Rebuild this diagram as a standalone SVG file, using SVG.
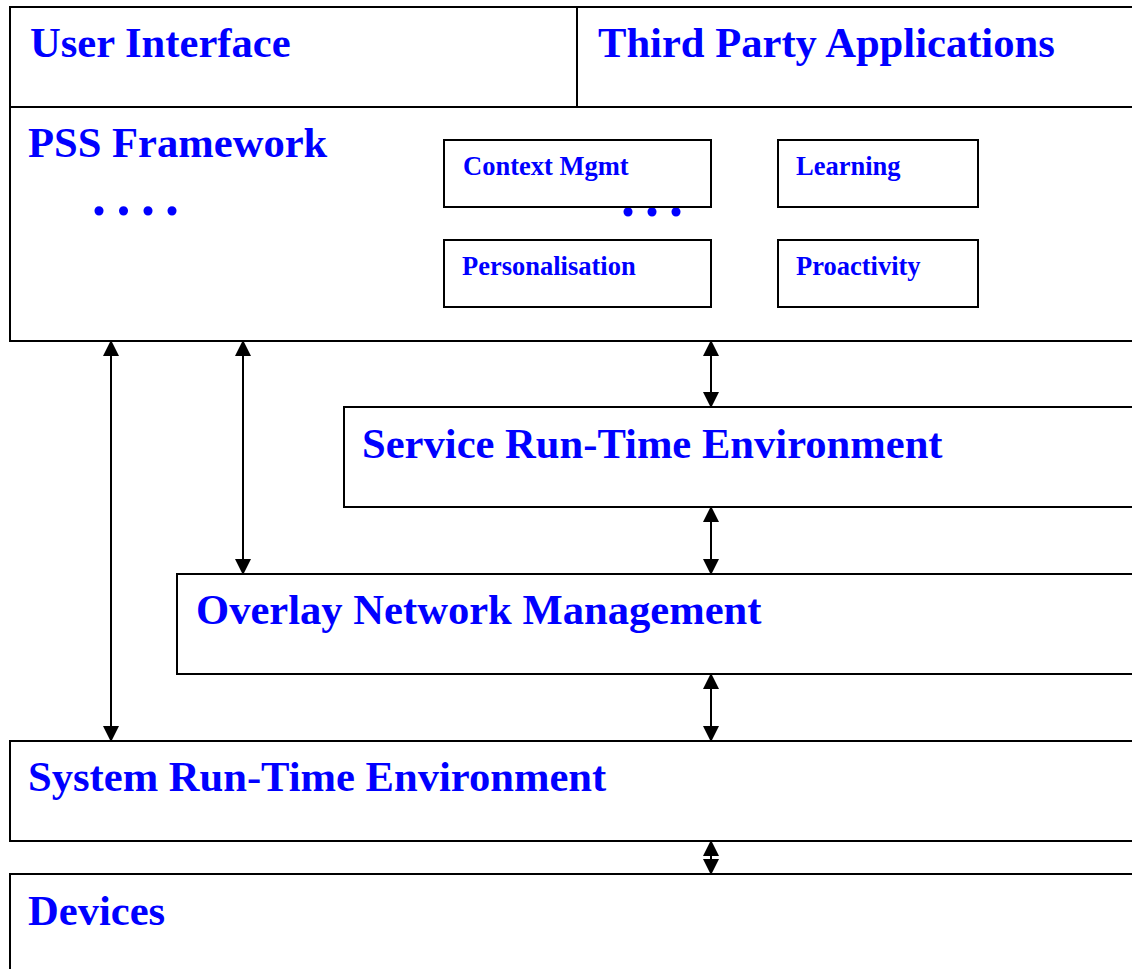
<svg xmlns="http://www.w3.org/2000/svg" width="1132" height="969" viewBox="0 0 1132 969">
  <style>
    .box { fill: #ffffff; stroke: #000000; stroke-width: 2; }
    .sub { fill: #ffffff; stroke: #000000; stroke-width: 2; }
    .big { font-family: "Liberation Serif", "Times New Roman", serif; font-weight: bold; font-size: 42.6px; fill: #0000ff; }
    .small { font-family: "Liberation Serif", "Times New Roman", serif; font-weight: bold; font-size: 26.5px; fill: #0000ff; }
    .dots { font-family: "Liberation Serif", "Times New Roman", serif; font-weight: bold; font-size: 56px; fill: #0000ff; }
    .conn { stroke: #000000; stroke-width: 2; fill: none; marker-start: url(#arrow); marker-end: url(#arrow); }
  </style>
  <defs>
    <marker id="arrow" markerUnits="userSpaceOnUse" markerWidth="16" markerHeight="16" viewBox="0 0 15 15" refX="0" refY="7.5" orient="auto-start-reverse">
      <path d="M0,0 L15,7.5 L0,15 z" fill="#000000"/>
    </marker>
  </defs>
  <rect width="1132" height="969" fill="#ffffff"/>

  <g id="user-interface">
    <rect class="box" x="10" y="7" width="567" height="100"/>
    <text class="big" x="30" y="57">User Interface</text>
  </g>
  <g id="third-party-applications">
    <rect class="box" x="577" y="7" width="570" height="100"/>
    <text class="big" x="598" y="57">Third Party Applications</text>
  </g>
  <g id="pss-framework">
    <rect class="box" x="10" y="107" width="1137" height="234"/>
    <text class="big" x="28" y="157">PSS Framework</text>
    <text class="dots" x="92 116.5 141 165" y="214.5">....</text>
    <text class="dots" x="621 645 669" y="215.5">...</text>
  </g>
  <g id="context-mgmt">
    <rect class="sub" x="444" y="140" width="267" height="67"/>
    <text class="small" x="463" y="175">Context Mgmt</text>
  </g>
  <g id="learning">
    <rect class="sub" x="778" y="140" width="200" height="67"/>
    <text class="small" x="796" y="175">Learning</text>
  </g>
  <g id="personalisation">
    <rect class="sub" x="444" y="240" width="267" height="67"/>
    <text class="small" x="462" y="275">Personalisation</text>
  </g>
  <g id="proactivity">
    <rect class="sub" x="778" y="240" width="200" height="67"/>
    <text class="small" x="796" y="275">Proactivity</text>
  </g>
  <g id="service-runtime">
    <rect class="box" x="344" y="407" width="803" height="100"/>
    <text class="big" x="362" y="458">Service Run-Time Environment</text>
  </g>
  <g id="overlay-network">
    <rect class="box" x="177" y="574" width="970" height="100"/>
    <text class="big" x="196" y="624">Overlay Network Management</text>
  </g>
  <g id="system-runtime">
    <rect class="box" x="10" y="741" width="1137" height="100"/>
    <text class="big" x="28" y="791">System Run-Time Environment</text>
  </g>
  <g id="devices">
    <rect class="box" x="10" y="874" width="1137" height="110"/>
    <text class="big" x="28" y="925">Devices</text>
  </g>

  <g id="connectors">
    <line class="conn" x1="111" y1="356" x2="111" y2="726"/>
    <line class="conn" x1="243" y1="356" x2="243" y2="559"/>
    <line class="conn" x1="711" y1="356" x2="711" y2="392"/>
    <line class="conn" x1="711" y1="522" x2="711" y2="559"/>
    <line class="conn" x1="711" y1="689" x2="711" y2="726"/>
    <line class="conn" x1="711" y1="856" x2="711" y2="859"/>
  </g>
</svg>
